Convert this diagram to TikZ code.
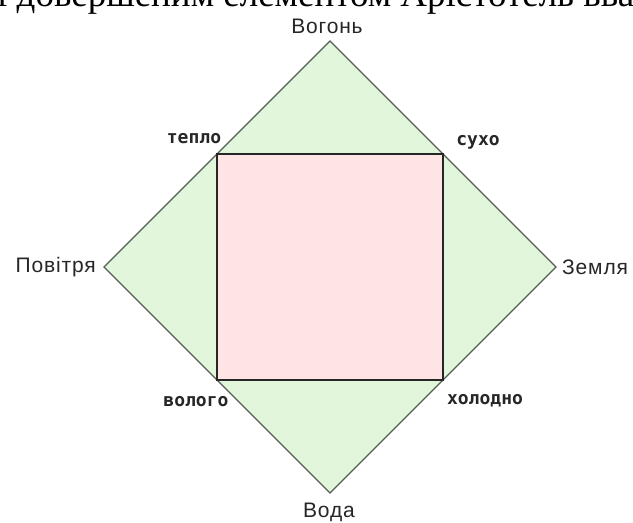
\documentclass[tikz,border=0pt]{standalone}
\usepackage{fontspec}
\setmainfont{Liberation Serif}
\setsansfont{Liberation Sans}
\newfontfamily\qualfont{DejaVu Sans Mono}
\usetikzlibrary{positioning,calc}
\definecolor{elemgreen}{RGB}{226,246,220}
\definecolor{qualpink}{RGB}{255,228,230}
\definecolor{edgegray}{RGB}{85,95,85}
\tikzset{
  elemdiamond/.style={draw=edgegray, line width=1.4pt, fill=elemgreen, line join=miter},
  qualsquare/.style={draw=black!85, line width=2pt, fill=qualpink},
  elemlabel/.style={font=\sffamily\addfontfeature{LetterSpace=4}\fontsize{21}{23}\selectfont, text=black!85, inner sep=0pt},
  quallabel/.style={font=\qualfont\bfseries\fontsize{18}{20}\selectfont, text=black!85, inner sep=0pt},
  toptext/.style={font=\rmfamily\fontsize{37}{40}\selectfont, inner sep=0pt, text depth=0pt, text height=14pt}
}
\begin{document}
\begin{tikzpicture}[x=1pt, y=1pt]
  \useasboundingbox (0,0) rectangle (633,523);
  \clip (0,0) rectangle (633,523);
  \fill[white] (0,0) rectangle (633,523);
  % cut-off line of text above the figure
  \node[toptext, anchor=base west] (caption) at (-3,516) {і довершеним елементом Арістотель вважав};
  % the four elements
  \coordinate (fire) at (330,482);
  \coordinate (earth) at (556,256);
  \coordinate (water) at (330,30);
  \coordinate (air) at (104,256);
  \draw[elemdiamond] (fire) -- (earth) -- (water) -- (air) -- cycle;
  % the four qualities
  \coordinate (hot) at ($(fire)!0.5!(air)$);
  \coordinate (dry) at ($(fire)!0.5!(earth)$);
  \coordinate (wet) at ($(water)!0.5!(air)$);
  \coordinate (cold) at ($(water)!0.5!(earth)$);
  \draw[qualsquare] (hot) -- (dry) -- (cold) -- (wet) -- cycle;
  \node[elemlabel] (firelbl) at (327,497) {Вогонь};
  \node[elemlabel, left=8pt of air] (airlbl) {Повітря};
  \node[elemlabel, right=6pt of earth] (earthlbl) {Земля};
  \node[elemlabel] (waterlbl) at (329,11) {Вода};
  \node[quallabel] (hotlbl) at (194,384) {тепло};
  \node[quallabel] (drylbl) at (478,381) {сухо};
  \node[quallabel] (wetlbl) at (196,121) {волого};
  \node[quallabel] (coldlbl) at (485,122) {холодно};
\end{tikzpicture}
\end{document}
